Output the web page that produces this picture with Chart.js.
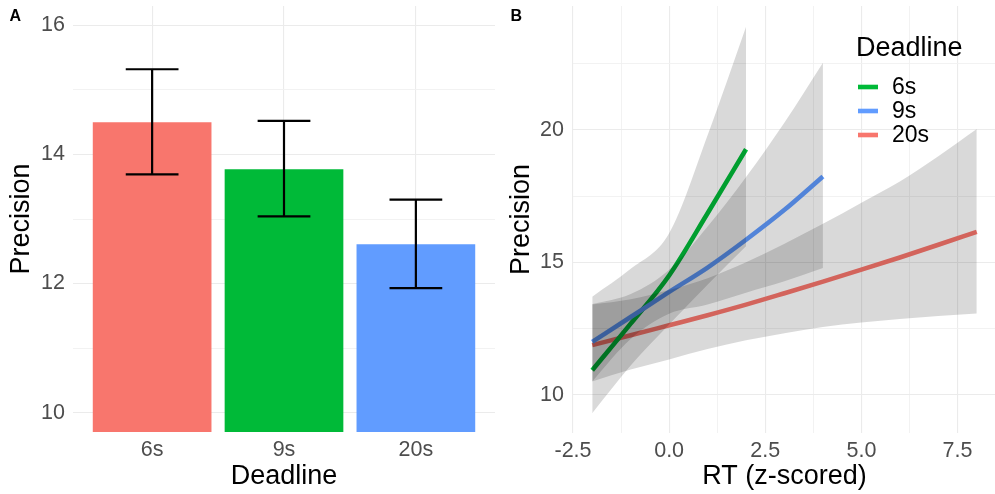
<!DOCTYPE html>
<html>
<head>
<meta charset="utf-8">
<script src="https://cdn.jsdelivr.net/npm/chart.js@4.4.0/dist/chart.umd.min.js"></script>
<style>
html,body{margin:0;padding:0;background:#fff;overflow:hidden;width:995px;height:494px;position:relative;}
#wrapA{position:absolute;left:0;top:0;width:497px;height:494px;}
#wrapB{position:absolute;left:497px;top:0;width:499px;height:494px;}
.tag{position:absolute;font:bold 16px "Liberation Sans",Arial,sans-serif;color:#000;line-height:18px;}
</style>
</head>
<body>
<div id="wrapA"><canvas id="cA" width="497" height="494"></canvas></div>
<div id="wrapB"><canvas id="cB" width="499" height="494"></canvas></div>
<div class="tag" style="left:9.5px;top:6.5px">A</div>
<div class="tag" style="left:510.5px;top:6.5px">B</div>
<script>
// ---------- Panel A data ----------
const deadlines = ['6s', '9s', '20s'];
const meanPrecision = [14.50, 13.77, 12.61];
const errLow = [13.69, 13.04, 11.93];
const errHigh = [15.32, 14.52, 13.30];
const yMajorA = [10, 12, 14, 16];
const yMinorA = [11, 13, 15];

// ---------- Panel B data ----------
const rt6 = [-2, -1, 0, 1, 2];
const fit6 = [10.92, 12.68, 14.50, 16.85, 19.27];
const lo6 = [9.30, 11.10, 12.65, 14.15, 15.60];
const hi6 = [13.70, 14.75, 16.10, 19.80, 23.90];

const rt9 = [-2, -1, 0, 1, 2, 3, 4];
const fit9 = [11.99, 12.93, 13.88, 14.80, 15.85, 16.98, 18.24];
const lo9 = [10.50, 12.10, 13.05, 13.40, 13.85, 14.28, 14.78];
const hi9 = [13.42, 13.80, 14.72, 16.35, 18.22, 20.28, 22.54];

const rt20 = [-2, -1, 0, 1, 2, 3, 4, 5, 6, 7, 8];
const fit20 = [11.87, 12.24, 12.62, 13.00, 13.40, 13.83, 14.27, 14.72, 15.18, 15.66, 16.15];
const lo20 = [10.50, 10.95, 11.33, 11.72, 12.05, 12.32, 12.55, 12.72, 12.86, 12.97, 13.06];
const hi20 = [13.40, 13.60, 13.95, 14.40, 15.00, 15.70, 16.45, 17.25, 18.05, 19.00, 20.03];

const xMajorB = [-2.5, 0, 2.5, 5, 7.5];
const xMinorB = [-1.25, 1.25, 3.75, 6.25];
const yMajorB = [10, 15, 20];
const yMinorB = [12.5, 17.5, 22.5];
const legendLabels = ['6s', '9s', '20s'];

// ---------- styles ----------
const FONT = '"Liberation Sans", Arial, Helvetica, sans-serif';
Chart.defaults.font.family = FONT;
const barColors = ['#F8766D', '#00BA38', '#619CFF'];
const lineColors = {'6s': '#00BA38', '9s': '#619CFF', '20s': '#F8766D'};
const ribbonFill = 'rgba(0,0,0,0.15)';
const tickColor = '#4D4D4D';
const gridMajor = '#EBEBEB';
const gridMinor = '#F1F1F1';

const pts = (xs, ys) => xs.map((x, i) => ({x: x, y: ys[i]}));
const merged = (a, b) => a.concat(b).sort((p, q) => p - q).map(v => ({value: v}));
const noPad = s => { s.paddingTop = 0; s.paddingBottom = 0; s.paddingLeft = 0; s.paddingRight = 0; };

// ---------- Panel A ----------
const errorBars = {
  id: 'errorBars',
  afterDatasetsDraw(chart) {
    const {ctx, scales: {x, y}} = chart;
    ctx.save();
    ctx.strokeStyle = '#000';
    ctx.lineWidth = 2.2;
    ctx.lineCap = 'butt';
    deadlines.forEach((d, i) => {
      const px = x.getPixelForValue(i + 1);
      const hw = x.getPixelForValue(i + 1.2) - px;
      const yl = y.getPixelForValue(errLow[i]);
      const yh = y.getPixelForValue(errHigh[i]);
      ctx.beginPath();
      ctx.moveTo(px, yh); ctx.lineTo(px, yl);
      ctx.moveTo(px - hw, yh); ctx.lineTo(px + hw, yh);
      ctx.moveTo(px - hw, yl); ctx.lineTo(px + hw, yl);
      ctx.stroke();
    });
    ctx.restore();
  }
};

new Chart(document.getElementById('cA'), {
  type: 'bar',
  data: {
    datasets: [{
      data: deadlines.map((d, i) => ({x: i + 1, y: meanPrecision[i]})),
      backgroundColor: barColors,
      borderWidth: 0,
      barPercentage: 0.9,
      categoryPercentage: 1.0
    }]
  },
  options: {
    responsive: false, animation: false, events: [],
    layout: {padding: {top: 6, right: 2, left: 0, bottom: 0}},
    plugins: {legend: {display: false}, tooltip: {enabled: false}},
    scales: {
      x: {
        type: 'linear', min: 0.4, max: 3.6, offset: false,
        afterBuildTicks: s => { s.ticks = deadlines.map((d, i) => ({value: i + 1})); },
        afterFit: s => { s.height = 62; noPad(s); },
        ticks: {callback: v => deadlines[Math.round(v) - 1], color: tickColor, font: {size: 21.5}, padding: 5, autoSkip: false, maxRotation: 0},
        grid: {color: gridMajor, lineWidth: 1.1, drawTicks: false, offset: false},
        border: {display: false},
        title: {display: true, text: 'Deadline', color: '#000', font: {size: 27}, padding: {top: 0, bottom: 1}}
      },
      y: {
        min: 9.7, max: 16.3,
        afterBuildTicks: s => { s.ticks = merged(yMajorA, yMinorA); },
        afterFit: s => { s.width = 73; noPad(s); },
        ticks: {callback: v => yMajorA.includes(v) ? String(v) : '', color: tickColor, font: {size: 21.5}, padding: 8, autoSkip: false},
        grid: {
          color: c => yMajorA.includes(c.tick.value) ? gridMajor : gridMinor,
          lineWidth: c => yMajorA.includes(c.tick.value) ? 1.1 : 0.9,
          drawTicks: false
        },
        border: {display: false},
        title: {display: true, text: 'Precision', color: '#000', font: {size: 27}, padding: {top: 5, bottom: 0}}
      }
    }
  },
  plugins: [errorBars]
});

// ---------- Panel B ----------
const legendB = {
  id: 'legendB',
  afterDraw(chart) {
    const ctx = chart.ctx;
    ctx.save();
    ctx.fillStyle = '#000';
    ctx.textBaseline = 'middle';
    ctx.textAlign = 'left';
    ctx.font = '27px ' + FONT;
    ctx.fillText('Deadline', 359, 49);
    ctx.font = '23px ' + FONT;
    legendLabels.forEach((lab, i) => {
      const yc = 87 + i * 24;
      ctx.strokeStyle = lineColors[lab];
      ctx.lineWidth = 4.6;
      ctx.beginPath();
      ctx.moveTo(361, yc); ctx.lineTo(381, yc);
      ctx.stroke();
      ctx.fillText(lab, 395, yc + 1);
    });
    ctx.restore();
  }
};

const lineDs = (xs, ys, color, order) => ({
  data: pts(xs, ys), borderColor: color, borderWidth: 4.6, pointRadius: 0,
  fill: false, cubicInterpolationMode: 'monotone', order: order
});
const ribbonUpper = (xs, ys, target) => ({
  data: pts(xs, ys), borderColor: 'transparent', borderWidth: 0, pointRadius: 0,
  backgroundColor: ribbonFill, fill: target, cubicInterpolationMode: 'monotone', order: 1
});
const ribbonLower = (xs, ys) => ({
  data: pts(xs, ys), borderColor: 'transparent', borderWidth: 0, pointRadius: 0,
  fill: false, cubicInterpolationMode: 'monotone', order: 1
});

new Chart(document.getElementById('cB'), {
  type: 'line',
  data: {
    datasets: [
      lineDs(rt20, fit20, lineColors['20s'], 12),   // 0
      lineDs(rt6, fit6, lineColors['6s'], 11),      // 1
      lineDs(rt9, fit9, lineColors['9s'], 10),      // 2
      ribbonUpper(rt20, hi20, 4),                   // 3
      ribbonLower(rt20, lo20),                      // 4
      ribbonUpper(rt6, hi6, 6),                     // 5
      ribbonLower(rt6, lo6),                        // 6
      ribbonUpper(rt9, hi9, 8),                     // 7
      ribbonLower(rt9, lo9)                         // 8
    ]
  },
  options: {
    responsive: false, animation: false, events: [],
    layout: {padding: {top: 6, right: 0, left: 0, bottom: 0}},
    plugins: {legend: {display: false}, tooltip: {enabled: false}},
    scales: {
      x: {
        type: 'linear', min: -2.5, max: 8.5, offset: false,
        afterBuildTicks: s => { s.ticks = merged(xMajorB, xMinorB); },
        afterFit: s => { s.height = 61; noPad(s); },
        ticks: {callback: v => xMajorB.includes(v) ? v.toFixed(1) : '', color: tickColor, font: {size: 21.5}, padding: 5, autoSkip: false, maxRotation: 0},
        grid: {
          color: c => xMajorB.includes(c.tick.value) ? gridMajor : gridMinor,
          lineWidth: c => xMajorB.includes(c.tick.value) ? 1.1 : 0.9,
          drawTicks: false
        },
        border: {display: false},
        title: {display: true, text: 'RT (z-scored)', color: '#000', font: {size: 27}, padding: {top: 0, bottom: 1}}
      },
      y: {
        min: 8.55, max: 24.68,
        afterBuildTicks: s => { s.ticks = merged(yMajorB, yMinorB); },
        afterFit: s => { s.width = 76; noPad(s); },
        ticks: {callback: v => yMajorB.includes(v) ? String(v) : '', color: tickColor, font: {size: 21.5}, padding: 9, autoSkip: false},
        grid: {
          color: c => yMajorB.includes(c.tick.value) ? gridMajor : gridMinor,
          lineWidth: c => yMajorB.includes(c.tick.value) ? 1.1 : 0.9,
          drawTicks: false
        },
        border: {display: false},
        title: {display: true, text: 'Precision', color: '#000', font: {size: 27}, padding: {top: 8, bottom: 0}}
      }
    }
  },
  plugins: [legendB]
});
</script>
</body>
</html>
